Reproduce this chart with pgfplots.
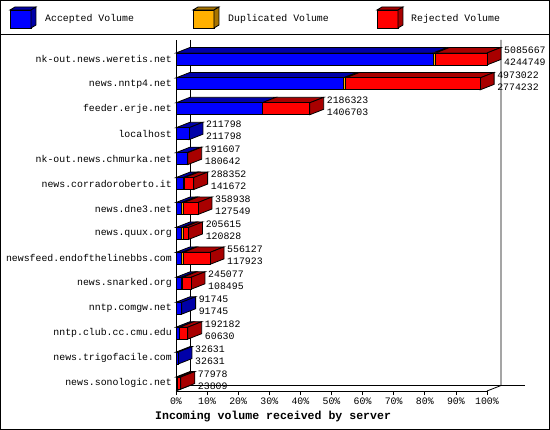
\documentclass[border=0pt]{standalone}
\usepackage{pgfplots}
\pgfplotsset{compat=1.18}
\usepackage{pgfplotstable}
\usepackage{fontspec}
\setmainfont{Liberation Mono}

\definecolor{accF}{RGB}{0,0,255}
\definecolor{accD}{RGB}{0,0,168}
\definecolor{dupF}{RGB}{255,176,0}
\definecolor{dupD}{RGB}{168,116,0}
\definecolor{rejF}{RGB}{255,0,0}
\definecolor{rejD}{RGB}{168,0,0}

% one row per server, top row first
\pgfplotstableread{
acc     dup   rej     top     bot
4209749 35000 840918  5085667 4244749
2734232 40000 2198790 4973022 2774232
1406703 0     779620  2186323 1406703
211798  0     0       211798  211798
180642  0     10965   191607  180642
116672  25000 146680  288352  141672
92549   35000 231389  358938  127549
95828   25000 84787   205615  120828
92923   25000 438204  556127  117923
83495   25000 136582  245077  108495
91745   0     0       91745   91745
60630   0     131552  192182  60630
32631   0     0       32631   32631
0       23809 54169   77978   23809
}\feeds

\def\maxvol{5085667}
\def\depX{4.5}
\def\depY{0.22}

% top face of one segment, from #1 to #2 (percent)
\newcommand\topface[3]{%
  \ifdim\fpeval{#2-#1}pt>0.001pt
    \edef\cmd{\noexpand\addplot[forget plot,draw=black,line width=0.8bp,fill=#3]
      coordinates {(#1,\yt) (\fpeval{#1+\depX},\yb) (\fpeval{#2+\depX},\yb) (#2,\yt)} -- cycle;}%
    \cmd
  \fi}

\newcommand\legcube[3]{%
  \filldraw[fill=#2,draw=black,line width=0.8bp] (#1,10) rectangle (#1+21,28);
  \filldraw[fill=#3,draw=black,line width=0.8bp] (#1,10) -- (#1+5,7) -- (#1+26,7) -- (#1+21,10) -- cycle;
  \filldraw[fill=#3,draw=black,line width=0.8bp] (#1+21,10) -- (#1+26,7) -- (#1+26,25) -- (#1+21,28) -- cycle;}

\begin{document}
\fontsize{9.9}{11.9}\selectfont
\begin{tikzpicture}
\useasboundingbox (-176bp,-39bp) rectangle (374bp,391bp);

\pgfplotsset{frame3d/.style={
  at={(0,0)}, anchor=south west, scale only axis,
  width=311bp, height=351bp,
  xmin=0, xmax=100, ymin=-0.32, ymax=13.76,
  enlargelimits=false, clip=false}}

% floor, walls, ticks and the 3D faces
\begin{axis}[frame3d,
  axis x line*=bottom, axis y line*=left,
  axis line style={line width=0.8bp},
  tick align=outside, major tick length=4bp,
  xtick={0,10,...,100},
  xticklabels={0\%,10\%,20\%,30\%,40\%,50\%,60\%,70\%,80\%,90\%,100\%},
  xtick style={black,line width=0.8bp},
  ytick={0,...,13},
  yticklabels={news.sonologic.net,news.trigofacile.com,nntp.club.cc.cmu.edu,
    nntp.comgw.net,news.snarked.org,newsfeed.endofthelinebbs.com,news.quux.org,
    news.dne3.net,news.corradoroberto.it,nk-out.news.chmurka.net,localhost,
    feeder.erje.net,news.nntp4.net,nk-out.news.weretis.net},
  ytick style={draw=none},
  yticklabel style={inner sep=0pt},
  xticklabel style={inner sep=2pt,yshift=-1bp},
]
\addplot[forget plot,black,line width=0.8bp] coordinates {(4.5,13.76) (4.5,-0.10) (112.2,-0.10)};
\addplot[forget plot,black,line width=0.8bp] coordinates {(0,-0.32) (4.5,-0.10)};
\addplot[forget plot,black,line width=0.8bp] coordinates {(100,-0.32) (104.5,-0.10) (104.5,13.76)};

\pgfplotsforeachungrouped \i in {0,...,13}{%
  \pgfplotstablegetelem{\i}{acc}\of\feeds \let\va\pgfplotsretval
  \pgfplotstablegetelem{\i}{dup}\of\feeds \let\vd\pgfplotsretval
  \pgfplotstablegetelem{\i}{rej}\of\feeds \let\vr\pgfplotsretval
  \edef\xa{\fpeval{\va*100/\maxvol}}%
  \edef\xb{\fpeval{(\va+\vd)*100/\maxvol}}%
  \edef\xc{\fpeval{(\va+\vd+\vr)*100/\maxvol}}%
  \edef\yc{\fpeval{13-\i}}%
  \edef\yt{\fpeval{\yc+0.24}}%
  \edef\yb{\fpeval{\yc+0.24+\depY}}%
  \edef\ylo{\fpeval{\yc-0.24}}%
  \edef\ylb{\fpeval{\yc-0.24+\depY}}%
  \topface{0}{\xa}{accD}%
  \topface{\xa}{\xb}{dupD}%
  \topface{\xb}{\xc}{rejD}%
  \def\rc{accD}%
  \ifdim\fpeval{\xb-\xa}pt>0.001pt \def\rc{dupD}\fi
  \ifdim\fpeval{\xc-\xb}pt>0.001pt \def\rc{rejD}\fi
  \edef\cmd{\noexpand\addplot[forget plot,draw=black,line width=0.8bp,fill=\rc]
    coordinates {(\xc,\ylo) (\xc,\yt) (\fpeval{\xc+\depX},\yb) (\fpeval{\xc+\depX},\ylb)} -- cycle;}%
  \cmd
}
\end{axis}

% front faces of the stacked bars
\begin{axis}[frame3d, hide axis,
  xbar stacked, bar width=0.48,
]
\addplot[fill=accF,draw=black,line width=0.8bp]
  table[x expr=\thisrow{acc}*100/\maxvol, y expr=13-\coordindex]{\feeds};
\addplot[fill=dupF,draw=black,line width=0.8bp]
  table[x expr=\thisrow{dup}*100/\maxvol, y expr=13-\coordindex]{\feeds};
\addplot[fill=rejF,draw=black,line width=0.8bp]
  table[x expr=\thisrow{rej}*100/\maxvol, y expr=13-\coordindex]{\feeds};
\end{axis}

% the two value labels at each bar end
\begin{axis}[frame3d, hide axis]
\addplot[draw=none,mark=none,
  point meta=explicit symbolic,
  nodes near coords={\pgfplotspointmeta},
  every node near coord/.style={anchor=west,xshift=17bp,yshift=9bp,inner sep=0pt,text=black}]
  table[x expr=\thisrow{top}*100/\maxvol, y expr=13-\coordindex, meta=top]{\feeds};
\addplot[draw=none,mark=none,
  point meta=explicit symbolic,
  nodes near coords={\pgfplotspointmeta},
  every node near coord/.style={anchor=west,xshift=17bp,yshift=-3bp,inner sep=0pt,text=black}]
  table[x expr=\thisrow{top}*100/\maxvol, y expr=13-\coordindex, meta=bot]{\feeds};
\end{axis}

% legend, title and frame, in pixel coordinates of the picture
\begin{scope}[x=1bp,y=1bp,shift={(-176bp,391bp)},yscale=-1]
  \draw[line width=1bp] (0.5,0.5) rectangle (549.5,429.5);
  \draw[line width=1bp] (0,35) -- (550,35);
  \legcube{10}{accF}{accD}
  \node[anchor=west,inner sep=0pt] at (45,19) {Accepted Volume};
  \legcube{193}{dupF}{dupD}
  \node[anchor=west,inner sep=0pt] at (228,19) {Duplicated Volume};
  \legcube{377}{rejF}{rejD}
  \node[anchor=west,inner sep=0pt] at (411,19) {Rejected Volume};
  \node[anchor=west,inner sep=0pt,font=\bfseries\fontsize{11.6}{14}\selectfont]
    at (155,417) {Incoming volume received by server};
\end{scope}
\end{tikzpicture}
\end{document}
